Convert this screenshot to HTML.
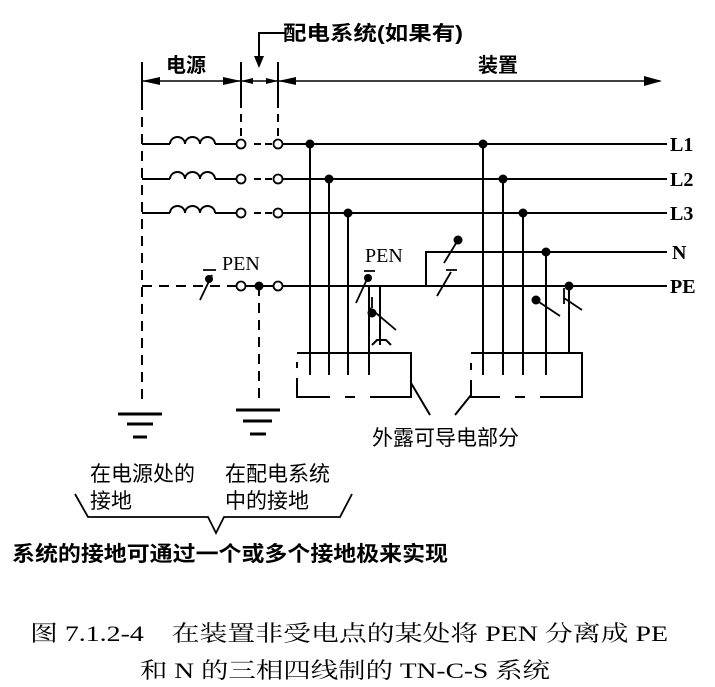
<!DOCTYPE html>
<html><head><meta charset="utf-8"><style>
html,body{margin:0;padding:0;background:#fff}
svg{display:block}
text{font-family:"Liberation Serif","Noto Serif CJK SC",serif;fill:#000}
.cj{font-family:"Liberation Sans","Noto Sans CJK SC",sans-serif}
</style></head><body>
<svg width="715" height="687" viewBox="0 0 715 687" xmlns="http://www.w3.org/2000/svg">
<g stroke="#000" stroke-width="2" fill="none">
<line x1="142" y1="62" x2="142" y2="100"/>
<line x1="241" y1="62" x2="241" y2="100"/>
<line x1="278" y1="62" x2="278" y2="100"/>
<line x1="142" y1="81" x2="660" y2="81" stroke-width="1.5"/>
<polyline points="285,33 259,33 259,62"/>
<line x1="142" y1="100" x2="142" y2="400" stroke-dasharray="10,7"/>
<line x1="241" y1="100" x2="241" y2="139" stroke-dasharray="8,6"/>
<line x1="278" y1="100" x2="278" y2="139" stroke-dasharray="8,6"/>
<path d="M142,144 H170 M142,179 H170 M142,213 H170"/>
<path d="M170,144 a7.5,7 0 0 1 15,0 a7.5,7 0 0 1 15,0 a7.5,7 0 0 1 15,0 M170,179 a7.5,7 0 0 1 15,0 a7.5,7 0 0 1 15,0 a7.5,7 0 0 1 15,0 M170,213 a7.5,7 0 0 1 15,0 a7.5,7 0 0 1 15,0 a7.5,7 0 0 1 15,0"/>
<path d="M215,144 H236 M215,179 H236 M215,213 H236"/>
<path d="M254,144 H273 M254,179 H273 M254,213 H273" stroke-dasharray="7,4"/>
<path d="M283,144 H667 M283,179 H667 M283,213 H667"/>
<path d="M142,286 H236" stroke-dasharray="10,7"/>
<path d="M246,286 H273 M283,286 H667"/>
<path d="M426,286 V252 H667"/>
<line x1="259" y1="286" x2="259" y2="402" stroke-dasharray="10,7"/>
<g fill="#fff" stroke-width="1.8">
<circle cx="241" cy="144" r="4.5"/><circle cx="278" cy="144" r="4.5"/>
<circle cx="241" cy="179" r="4.5"/><circle cx="278" cy="179" r="4.5"/>
<circle cx="241" cy="213" r="4.5"/><circle cx="278" cy="213" r="4.5"/>
<circle cx="241" cy="286" r="4.5"/><circle cx="278" cy="286" r="4.5"/>
</g>
<path d="M310,144 V375 M329,179 V375 M348,213 V375 M369,286 V375"/>
<path d="M380,286 V345 M372,345 L377,340 H386 L391,345"/>
<path d="M297,353 H411 V397 H370 M355,397 H345 M330,397 H297 V378 M297,368 V362"/>
<path d="M483,144 V375 M503,179 V375 M523,213 V375 M546,252 V375 M569,286 V353"/>
<path d="M471,353 H582 V397 H540 M525,397 H515 M500,397 H471 V380 M471,370 V363"/>
<path d="M411,383 L430,415 M471,395 L455,415"/>
<path d="M200,300 L212,275 M203,270 H216" stroke-width="1.8"/>
<path d="M356,303 L368,277 M364,271 H375" stroke-width="1.8"/>
<path d="M370,308 L396,330 M372,297 V308" stroke-width="1.8"/>
<path d="M444,263 L458,240" stroke-width="1.8"/>
<path d="M437,296 L451,272 M446,270 H457" stroke-width="1.8"/>
<path d="M536,300 L560,316" stroke-width="1.8"/>
<path d="M564,288 V304 M564,298 L582,310" stroke-width="1.8"/>
<path d="M118,414 H162 M127,424 H153 M133,437 H147" stroke-width="3"/>
<path d="M236,410 H280 M243,421 H272 M250,434 H266" stroke-width="3"/>
<path d="M75,494 L88,517 H208 L216,533 L224,517 H340 L352,494" stroke-width="1.8"/>
</g>
<g fill="#000">
<polygon points="142,81 160,77 160,85"/>
<polygon points="241,81 223,77 223,85"/>
<polygon points="241,81 253,78 253,84"/>
<polygon points="278,81 266,78 266,84"/>
<polygon points="278,81 296,77 296,85"/>
<polygon points="662,81 644,76 644,86"/>
<polygon points="259,68 254,56 264,56"/>
<circle cx="310" cy="144" r="4.5"/><circle cx="329" cy="179" r="4.5"/><circle cx="348" cy="213" r="4.5"/>
<circle cx="483" cy="144" r="4.5"/><circle cx="503" cy="179" r="4.5"/><circle cx="523" cy="213" r="4.5"/>
<circle cx="546" cy="252" r="4.5"/><circle cx="569" cy="286" r="4.5"/>
<circle cx="259" cy="286" r="4.5"/>
<circle cx="209" cy="279" r="4"/><circle cx="368" cy="278" r="4"/><circle cx="372" cy="313" r="4.5"/>
<circle cx="458" cy="240" r="4.5"/><circle cx="536" cy="300" r="4.5"/>
</g>
<g class="cj" font-weight="bold">
<text x="166" y="72" font-size="20" class="cj">电源</text>
<text x="283" y="40" font-size="20" class="cj" textLength="180" lengthAdjust="spacingAndGlyphs">配电系统(如果有)</text>
<text x="478" y="72" font-size="20" class="cj">装置</text>
</g>
<g font-size="20" font-weight="bold">
<text x="670" y="151">L1</text><text x="670" y="186">L2</text><text x="670" y="220">L3</text>
<text x="672" y="259">N</text><text x="670" y="293">PE</text>
</g>
<text x="222" y="270" font-size="20">PEN</text>
<text x="365" y="262" font-size="20">PEN</text>
<g class="cj" font-size="21">
<text x="372" y="445" class="cj">外露可导电部分</text>
<text x="90" y="481" class="cj">在电源处的</text>
<text x="90" y="508" class="cj">接地</text>
<text x="225" y="481" class="cj">在配电系统</text>
<text x="225" y="508" class="cj">中的接地</text>
<text x="12" y="561" class="cj" font-weight="bold" textLength="436" lengthAdjust="spacingAndGlyphs">系统的接地可通过一个或多个接地极来实现</text>
</g>
<text x="30" y="641" font-size="22" textLength="638" lengthAdjust="spacingAndGlyphs">图 7.1.2-4　在装置非受电点的某处将 PEN 分离成 PE</text>
<text x="140" y="678" font-size="22" textLength="410" lengthAdjust="spacingAndGlyphs">和 N 的三相四线制的 TN-C-S 系统</text>
</svg>
</body></html>
